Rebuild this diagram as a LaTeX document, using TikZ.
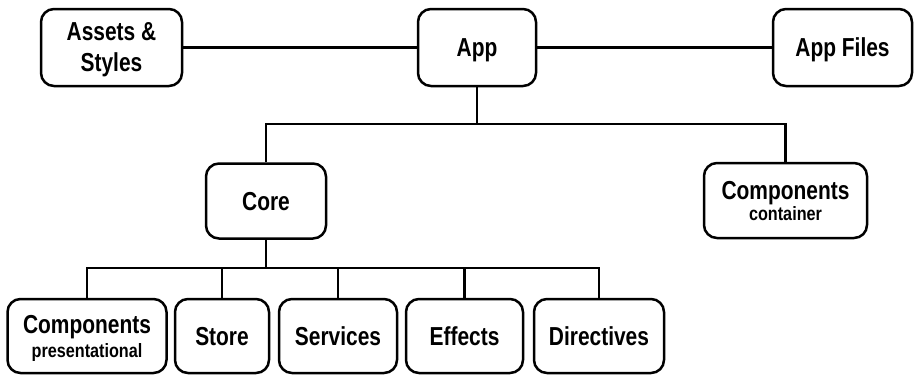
\documentclass[tikz,border=0pt]{standalone}
\usepackage{fontspec}
\newfontfamily\diafont{Liberation Sans}[FakeStretch=0.805]
\newfontfamily\diasmall{Liberation Sans}[FakeStretch=0.84]
\newcommand{\subtxt}[1]{{\diasmall\bfseries\fontsize{19.3}{20}\selectfont #1}}
\begin{document}
\begin{tikzpicture}[x=1pt,y=1pt,
  box/.style={draw=black, line width=2.5pt, rounded corners=13pt, inner sep=0pt,
    text depth=0pt, align=center, font=\diafont\bfseries\fontsize{26}{31}\selectfont},
  conn/.style={draw=black, line width=2.2pt}]
\useasboundingbox (0,0) rectangle (916,-375);
% top row
\node[box, minimum width=141pt, minimum height=77pt] (assets) at (111.5,-47.5) {Assets \&\\Styles};
\node[box, minimum width=118pt, minimum height=77pt] (app) at (477,-47.5) {App};
\node[box, minimum width=139pt, minimum height=77pt] (appfiles) at (842.5,-47.5) {App Files};
% middle row
\node[box, minimum width=120pt, minimum height=75pt] (core) at (266,-201) {Core};
\node[box, minimum width=163pt, minimum height=75pt] (compc) at (785.5,-200.5) {Components\\[-10pt]\subtxt{container}};
% bottom row
\node[box, minimum width=159pt, minimum height=74pt] (compp) at (87,-336) {Components\\[-7pt]\subtxt{presentational}};
\node[box, minimum width=94pt, minimum height=74pt] (store) at (222,-336) {Store};
\node[box, minimum width=118pt, minimum height=74pt] (services) at (338,-336) {Services};
\node[box, minimum width=117pt, minimum height=74pt] (effects) at (464.5,-336) {Effects};
\node[box, minimum width=130pt, minimum height=74pt] (directives) at (599,-336) {Directives};
% connectors
\draw[conn] (assets.east) -- (app.west);
\draw[conn] (app.east) -- (appfiles.west);
\coordinate (bus1) at ([yshift=-37pt]app.south);
\draw[conn] (app.south) -- (bus1);
\draw[conn] (core.north) |- (bus1) -| (compc.north);
\coordinate (bus2) at ([yshift=-28pt]core.south);
\draw[conn] (core.south) -- (bus2);
\draw[conn] (compp.north) |- (bus2) -| (directives.north);
\draw[conn] (store.north) -- (store.north |- bus2);
\draw[conn] (services.north) -- (services.north |- bus2);
\draw[conn] (effects.north) -- (effects.north |- bus2);
\end{tikzpicture}
\end{document}
